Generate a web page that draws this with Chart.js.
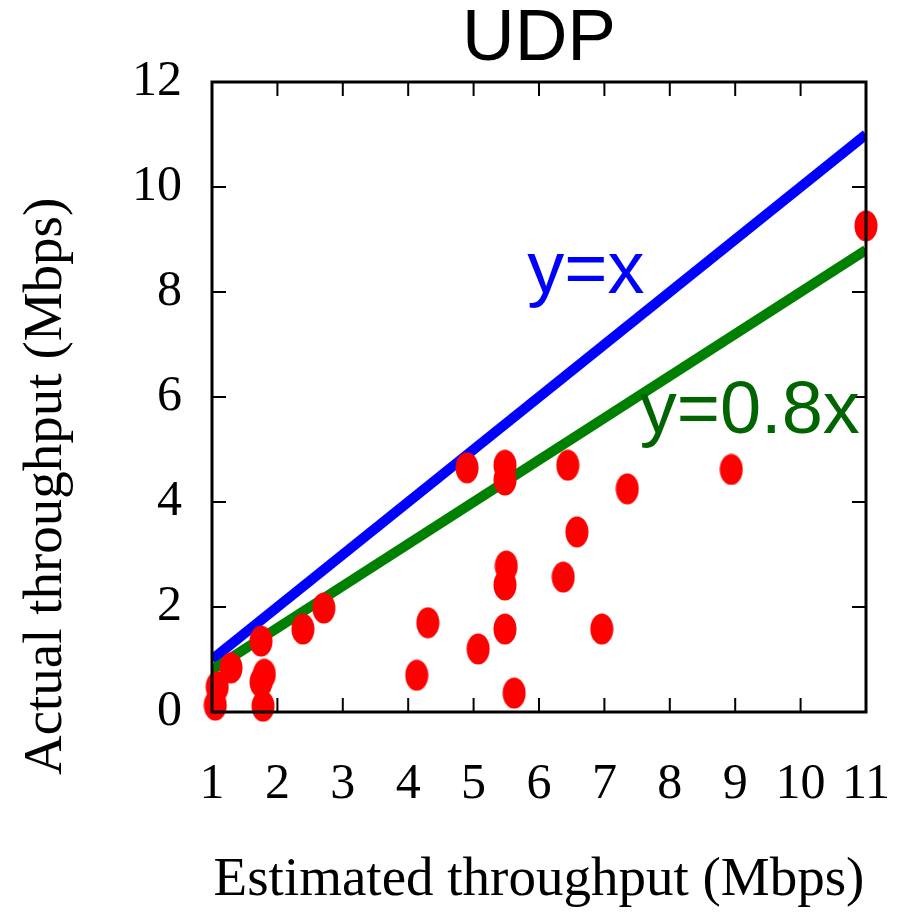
<!DOCTYPE html>
<html>
<head>
<meta charset="utf-8">
<script src="https://cdn.jsdelivr.net/npm/chart.js@4.4.1/dist/chart.umd.min.js"></script>
<style>
  html, body { margin: 0; padding: 0; background: #fff; }
  #wrap { width: 901px; height: 924px; position: relative; }
</style>
</head>
<body>
<div id="wrap"><canvas id="chart"></canvas></div>
<script>
// ----------- Data -----------
const estimated = [1.05, 1.08, 1.29, 1.75, 1.80, 1.75, 1.78, 2.39, 2.71, 4.13, 4.30, 4.90, 5.07,
                   5.48, 5.48, 5.50, 5.48, 5.48, 5.62, 6.37, 6.44, 6.58, 6.96, 7.35, 8.94, 11.0];
const actual    = [0.13, 0.48, 0.84, 1.35, 0.72, 0.57, 0.11, 1.58, 1.98, 0.70, 1.70, 4.65, 1.20,
                   4.70, 4.42, 2.78, 2.42, 1.58, 0.36, 2.57, 4.70, 3.43, 1.58, 4.25, 4.62, 9.26];

const lineX = [1, 11];
const idealY = [1, 11];      // y = x
const scaledY = [0.8, 8.8];  // y = 0.8x

const xTicks = [1, 2, 3, 4, 5, 6, 7, 8, 9, 10, 11];
const yTicks = [0, 2, 4, 6, 8, 10, 12];

// label text + anchor (data units)
const lineLabels = [
  { text: "y=x", x: 5.82, y: 7.98, color: "#0000ff" },
  { text: "y=0.8x", x: 7.54, y: 5.31, color: "#006400" }
];

const serif = "'Liberation Serif', 'Times New Roman', serif";
const sans = "'Liberation Sans', Arial, sans-serif";

// red ellipse marker (taller than wide)
const dot = document.createElement("canvas");
dot.width = 24; dot.height = 32;
(() => {
  const c = dot.getContext("2d");
  c.fillStyle = "#ff0000";
  c.beginPath();
  c.ellipse(12, 16, 11.5, 15.5, 0, 0, Math.PI * 2);
  c.fill();
})();

// ----------- Frame + inward ticks + line labels -----------
const framePlugin = {
  id: "frame",
  afterDatasetsDraw(chart) {
    const { ctx, chartArea: a, scales: { x, y } } = chart;
    ctx.save();
    ctx.strokeStyle = "#000";
    ctx.lineWidth = 2;
    const len = 14;
    xTicks.forEach(v => {
      const px = x.getPixelForValue(v);
      ctx.beginPath();
      ctx.moveTo(px, a.bottom); ctx.lineTo(px, a.bottom - len);
      ctx.moveTo(px, a.top); ctx.lineTo(px, a.top + len);
      ctx.stroke();
    });
    yTicks.forEach(v => {
      const py = y.getPixelForValue(v);
      ctx.beginPath();
      ctx.moveTo(a.left, py); ctx.lineTo(a.left + len, py);
      ctx.moveTo(a.right, py); ctx.lineTo(a.right - len, py);
      ctx.stroke();
    });
    ctx.lineWidth = 3;
    ctx.strokeRect(a.left, a.top, a.right - a.left, a.bottom - a.top);

    ctx.font = "74px " + sans;
    ctx.textAlign = "left";
    ctx.textBaseline = "alphabetic";
    lineLabels.forEach(l => {
      ctx.fillStyle = l.color;
      ctx.fillText(l.text, x.getPixelForValue(l.x), y.getPixelForValue(l.y));
    });
    ctx.restore();
  }
};

new Chart(document.getElementById("chart"), {
  type: "scatter",
  data: {
    datasets: [
      {
        label: "measured",
        data: estimated.map((v, i) => ({ x: v, y: actual[i] })),
        pointStyle: dot,
        pointRadius: 12,
        clip: false
      },
      {
        type: "line",
        label: "y=0.8x",
        data: lineX.map((v, i) => ({ x: v, y: scaledY[i] })),
        borderColor: "#008000",
        borderWidth: 10,
        pointRadius: 0,
        borderCapStyle: "butt"
      },
      {
        type: "line",
        label: "y=x",
        data: lineX.map((v, i) => ({ x: v, y: idealY[i] })),
        borderColor: "#0000ff",
        borderWidth: 10,
        pointRadius: 0,
        borderCapStyle: "butt"
      }
    ]
  },
  options: {
    responsive: true,
    maintainAspectRatio: false,
    animation: false,
    layout: { padding: { left: 0, right: 35, top: 0, bottom: 0 } },
    plugins: {
      legend: { display: false },
      tooltip: { enabled: false },
      title: {
        display: true,
        fullSize: false,
        text: "UDP",
        color: "#000",
        font: { family: sans, size: 73, weight: "normal", lineHeight: 1 },
        padding: { top: 3, bottom: 6 }
      }
    },
    scales: {
      x: {
        type: "linear",
        min: 1, max: 11,
        afterFit: s => { s.height = 212; s.paddingLeft = 0; s.paddingRight = 0; },
        afterBuildTicks: s => { s.ticks = xTicks.map(v => ({ value: v })); },
        grid: { display: false, drawTicks: false },
        border: { display: false },
        ticks: { color: "#000", padding: 43, font: { family: serif, size: 50 } },
        title: {
          display: true,
          text: "Estimated throughput (Mbps)",
          color: "#000",
          font: { family: serif, size: 55 },
          padding: { top: 0, bottom: 10 }
        }
      },
      y: {
        type: "linear",
        min: 0, max: 12,
        afterFit: s => { s.width = 212; s.paddingTop = 0; s.paddingBottom = 0; },
        afterBuildTicks: s => { s.ticks = yTicks.map(v => ({ value: v })); },
        grid: { display: false, drawTicks: false },
        border: { display: false },
        ticks: { color: "#000", padding: 30, font: { family: serif, size: 50 } },
        title: {
          display: true,
          // trailing spaces push the visible text toward the bottom like the original
          text: "Actual throughput (Mbps)\u2003\u2003\u2003 ",
          color: "#000",
          font: { family: serif, size: 55 },
          padding: { top: 14, bottom: 0 }
        }
      }
    }
  },
  plugins: [framePlugin]
});
</script>
</body>
</html>
